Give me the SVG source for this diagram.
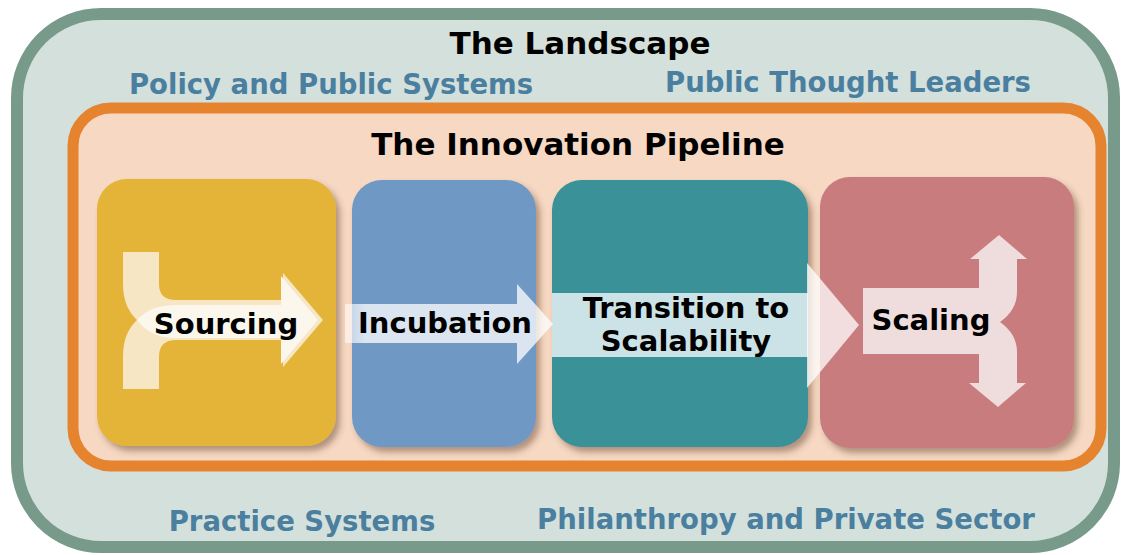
<svg xmlns="http://www.w3.org/2000/svg" width="1121" height="555" viewBox="0 0 1121 555">
<style>
.title{font-family:"DejaVu Sans",Verdana,sans-serif;font-weight:bold;fill:#000;text-anchor:middle}
.area{font-family:"DejaVu Sans",Verdana,sans-serif;font-weight:bold;fill:#4a7f9f;text-anchor:middle;font-size:27.5px}
.lbl{font-family:"DejaVu Sans",Verdana,sans-serif;font-weight:bold;fill:#000;text-anchor:middle;font-size:29px}
.box{filter:url(#sh)}
</style>
<defs>
<filter id="sh" x="-10%" y="-10%" width="125%" height="125%">
<feDropShadow dx="4" dy="5" stdDeviation="3" flood-color="#5a3a20" flood-opacity="0.45"/>
</filter>
<linearGradient id="incg" x1="0" x2="1" y1="0" y2="0">
<stop offset="0" stop-color="#fff" stop-opacity="0.55"/>
<stop offset="0.1" stop-color="#fff" stop-opacity="0.75"/>
<stop offset="1" stop-color="#fff" stop-opacity="0.75"/>
</linearGradient>
</defs>
<g id="landscape">
<rect x="17" y="14" width="1097" height="533" rx="84" fill="#d4e0db" stroke="#779a8a" stroke-width="12"/>
<text class="title" x="580" y="54" font-size="31">The Landscape</text>
<text class="area" x="331" y="94">Policy and Public Systems</text>
<text class="area" x="848" y="92">Public Thought Leaders</text>
<text class="area" x="302" y="531">Practice Systems</text>
<text class="area" x="786" y="529">Philanthropy and Private Sector</text>
</g>
<g id="pipeline">
<rect x="73" y="108" width="1028" height="358" rx="38" fill="#f6d8c3" stroke="#e6832f" stroke-width="11"/>
<text class="title" x="578" y="155" font-size="31">The Innovation Pipeline</text>
</g>
<g id="sourcing">
<rect class="box" x="97" y="179" width="239" height="267" rx="30" fill="#e3b437"/>
<path d="M123,252 L159,252 L159,284 Q159,300 176,300 L283,300 L283,273 L323,320 L283,367 L283,340 L176,340 Q159,340 159,357 L159,389 L123,389 L123,356 Q123,333 137,320 Q123,307 123,284 Z" fill="#f6e6c3"/>
<path d="M137,320 Q150,305 176,305 L281,305 L281,276 L318,320 L281,364 L281,338 L176,338 Q150,338 137,320 Z" fill="#fcf7ed"/>
<text class="lbl" x="226" y="334">Sourcing</text>
</g>
<g id="incubation">
<rect class="box" x="352" y="180" width="184" height="267" rx="30" fill="#7098c5"/>
</g>
<g id="transition">
<rect class="box" x="552" y="180" width="256" height="267" rx="30" fill="#3a9198"/>
<rect x="552" y="293" width="256" height="64" fill="#cbe3e6"/>
</g>
<g id="scaling">
<rect class="box" x="820" y="177" width="254" height="271" rx="30" fill="#c97b7d"/>
<path d="M863,288 L979,288 L979,259 L970,259 L999,235 L1027,259 L1017,259 L1017,292 Q1017,310 1000,322 Q1017,334 1017,352 L1017,383 L1026,383 L998,407 L969,383 L979,383 L979,354 L863,354 Z" fill="#efdcdc"/>
</g>
<g id="connectors">
<path d="M345,304 L517,304 L517,284 L553,324 L517,364 L517,343 L345,343 Z" fill="url(#incg)"/>
<path d="M807,263 L859,325 L807,388 Z" fill="#fff" fill-opacity="0.75"/>
</g>
<g id="labels">
<text class="lbl" x="445" y="333">Incubation</text>
<text class="lbl" x="686" y="318">Transition to</text>
<text class="lbl" x="686" y="351">Scalability</text>
<text class="lbl" x="931" y="330">Scaling</text>
</g>
</svg>
